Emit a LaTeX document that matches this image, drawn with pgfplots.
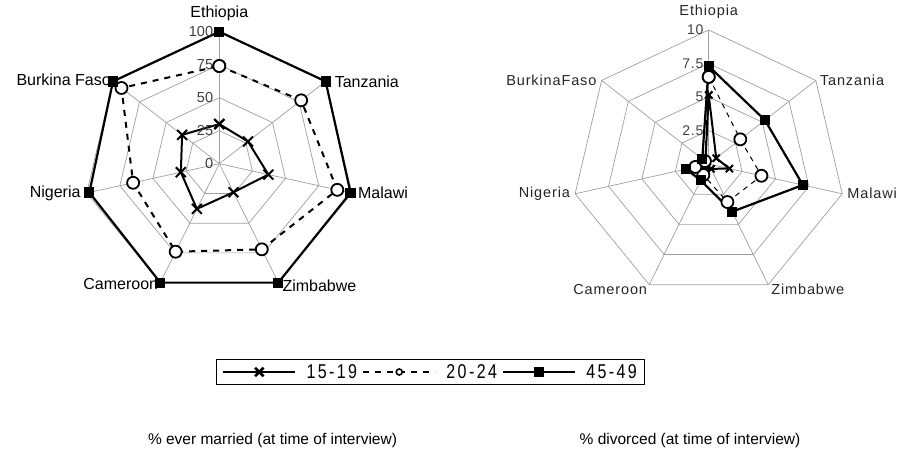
\documentclass[border=0pt]{standalone}
\usepackage{pgfplots}
\pgfplotsset{compat=1.18}
\usepgfplotslibrary{polar}
\usepackage{pgfplotstable}
\usepackage{fontspec}
\setmainfont{Liberation Sans}
\newfontfamily\legfont[FakeStretch=0.8, LetterSpace=12]{Liberation Sans}
\newfontfamily\spfont[LetterSpace=6]{Liberation Sans}

% angle  15-19  20-24  45-49   (order: Ethiopia, Tanzania, Malawi, Zimbabwe, Cameroon, Nigeria, Burkina Faso, Ethiopia)
\pgfplotstableread{
ang a b c
90 30 74 100
38.571 27 77 100
-12.857 37 89 99
-64.286 24 72 100
-115.714 38 74 100
-167.143 29 65 98
141.429 35 92 100
90 30 74 100
}\married

\pgfplotstableread{
ang a b c
90 5.15 6.5 7.3
38.571 0.7 2.95 5.25
-12.857 1.55 3.95 7.05
-64.286 0.4 3.15 3.95
-115.714 0.3 0.9 1.35
-167.143 0.3 1.0 1.7
141.429 0.3 0.35 0.6
90 5.15 6.5 7.3
}\divorced

\pgfplotsset{
 ring/.style={draw=gray!75, line width=0.7pt, forget plot, mark=none, solid},
 s1519/.style={black, line width=2pt, solid, mark=x, mark size=7pt, mark options={solid, line width=2pt},
   legend image post style={mark size=6pt, mark options={solid, line width=2.6pt}}},
 s2024/.style={black, line width=2pt, dash pattern=on 6pt off 6pt, mark=*, mark size=6pt, mark options={solid, fill=white, draw=black, line width=1.8pt},
   legend image post style={mark size=3pt, mark options={solid, fill=white, draw=black, line width=1.6pt}}},
 s4549/.style={black, line width=2.2pt, solid, mark=square*, mark size=4pt, mark options={solid},
   legend image post style={mark size=4.2pt, line width=1.4pt}},
 radar/.style={scale only axis, xtick=\empty, ytick=\empty, axis line style={draw=none}, clip=false, ymin=0},
}

\begin{document}
\begin{tikzpicture}[x=1pt,y=1pt]
\path[use as bounding box] (0,0) rectangle (899,462);

% ---------------- left: % ever married ----------------
\begin{polaraxis}[radar,
  at={(219.3pt,298.3pt)}, anchor=origin,
  width=272pt, height=264pt, ymax=100,
  legend columns=3,
  legend style={at={(axis description cs:1.2765,-0.289)}, anchor=center, draw=black, line width=0.9pt,
    font=\legfont\fontsize{20}{22}\selectfont, inner xsep=6pt, inner ysep=3pt,
    nodes={inner xsep=1.5pt, inner ysep=2pt},
    /tikz/every even column/.append style={column sep=4pt},
    /tikz/every odd column/.append style={column sep=9pt}},
  legend image code/.code={\draw[line width=1.4pt, mark repeat=2,mark phase=2] plot coordinates {(0pt,0pt) (36pt,0pt) (72pt,0pt)};},
]
\pgfplotsinvokeforeach{25,50,75,100}{
  \addplot[ring] coordinates {(90,#1)(38.571,#1)(-12.857,#1)(-64.286,#1)(-115.714,#1)(-167.143,#1)(141.429,#1)(90,#1)};
}
\pgfplotsinvokeforeach{90,38.571,-12.857,-64.286,-115.714,-167.143,141.429}{
  \addplot[ring] coordinates {(#1,0)(#1,100)};
}
\addplot[s1519] table[x=ang,y=a]{\married};
\addlegendentry{15-19}
\addplot[s2024] table[x=ang,y=b]{\married};
\addlegendentry{20-24}
\addplot[s4549] table[x=ang,y=c]{\married};
\addlegendentry{45-49}

\pgfplotsinvokeforeach{0,25,50,75,100}{
  \node[anchor=east, inner sep=0pt, font=\fontsize{14.5}{16}\selectfont, text=black!75] at (axis cs:90,#1) [xshift=-6pt] {#1};
}
\begin{scope}[every node/.style={font=\fontsize{16}{18}\selectfont, inner sep=0pt}]
\node[anchor=base] at (axis cs:90,100) [yshift=14pt] {Ethiopia};
\node[anchor=west] at (axis cs:38.571,100) [xshift=9pt] {Tanzania};
\node[anchor=west] at (axis cs:-12.857,100) [xshift=6pt] {Malawi};
\node[anchor=west] at (axis cs:-64.286,100) [xshift=4pt, yshift=-3pt] {Zimbabwe};
\node[anchor=east] at (axis cs:-115.714,100) [xshift=-2pt, yshift=-1pt] {Cameroon};
\node[anchor=east] at (axis cs:-167.143,100) [xshift=-6pt] {Nigeria};
\node[anchor=east] at (axis cs:141.429,100) [xshift=-2pt, yshift=2pt] {Burkina Faso};
\end{scope}
\end{polaraxis}

% ---------------- right: % divorced ----------------
\begin{polaraxis}[radar,
  at={(708.7pt,298pt)}, anchor=origin,
  width=274pt, height=268pt, ymax=10,
]
\pgfplotsinvokeforeach{2.5,5,7.5,10}{
  \addplot[ring] coordinates {(90,#1)(38.571,#1)(-12.857,#1)(-64.286,#1)(-115.714,#1)(-167.143,#1)(141.429,#1)(90,#1)};
}
\pgfplotsinvokeforeach{90,38.571,-12.857,-64.286,-115.714,-167.143,141.429}{
  \addplot[ring] coordinates {(#1,0)(#1,10)};
}
\addplot[s1519, mark size=5pt] table[x=ang,y=a]{\divorced};
\addplot[s2024, line width=1pt, dash pattern=on 5pt off 5pt] table[x=ang,y=b]{\divorced};
\addplot[s4549] table[x=ang,y=c]{\divorced};

\begin{scope}[every node/.style={anchor=east, inner sep=0pt, font=\spfont\fontsize{14}{16}\selectfont, text=black!75, xshift=-5pt}]
\node at (axis cs:90,0) {0};
\node at (axis cs:90,2.5) {2.5};
\node at (axis cs:90,5) {5};
\node at (axis cs:90,7.5) {7.5};
\node at (axis cs:90,10) {10};
\end{scope}
\begin{scope}[every node/.style={font=\spfont\fontsize{14.5}{16}\selectfont, inner sep=0pt, text=black!85}]
\node[anchor=base] at (axis cs:90,10) [yshift=14pt] {Ethiopia};
\node[anchor=west] at (axis cs:38.571,10) [xshift=4pt] {Tanzania};
\node[anchor=west] at (axis cs:-12.857,10) [xshift=5pt] {Malawi};
\node[anchor=west] at (axis cs:-64.286,10) [xshift=3pt, yshift=-5pt] {Zimbabwe};
\node[anchor=east] at (axis cs:-115.714,10) [xshift=-2pt, yshift=-5pt] {Cameroon};
\node[anchor=east] at (axis cs:-167.143,10) [xshift=-5pt] {Nigeria};
\node[anchor=east] at (axis cs:141.429,10) [xshift=-5pt] {BurkinaFaso};
\end{scope}
\end{polaraxis}

\node[font=\fontsize{15.5}{18}\selectfont] at (272.5,22) {\% ever married (at time of interview)};
\node[font=\fontsize{15.5}{18}\selectfont] at (690,22) {\% divorced (at time of interview)};
\end{tikzpicture}
\end{document}
